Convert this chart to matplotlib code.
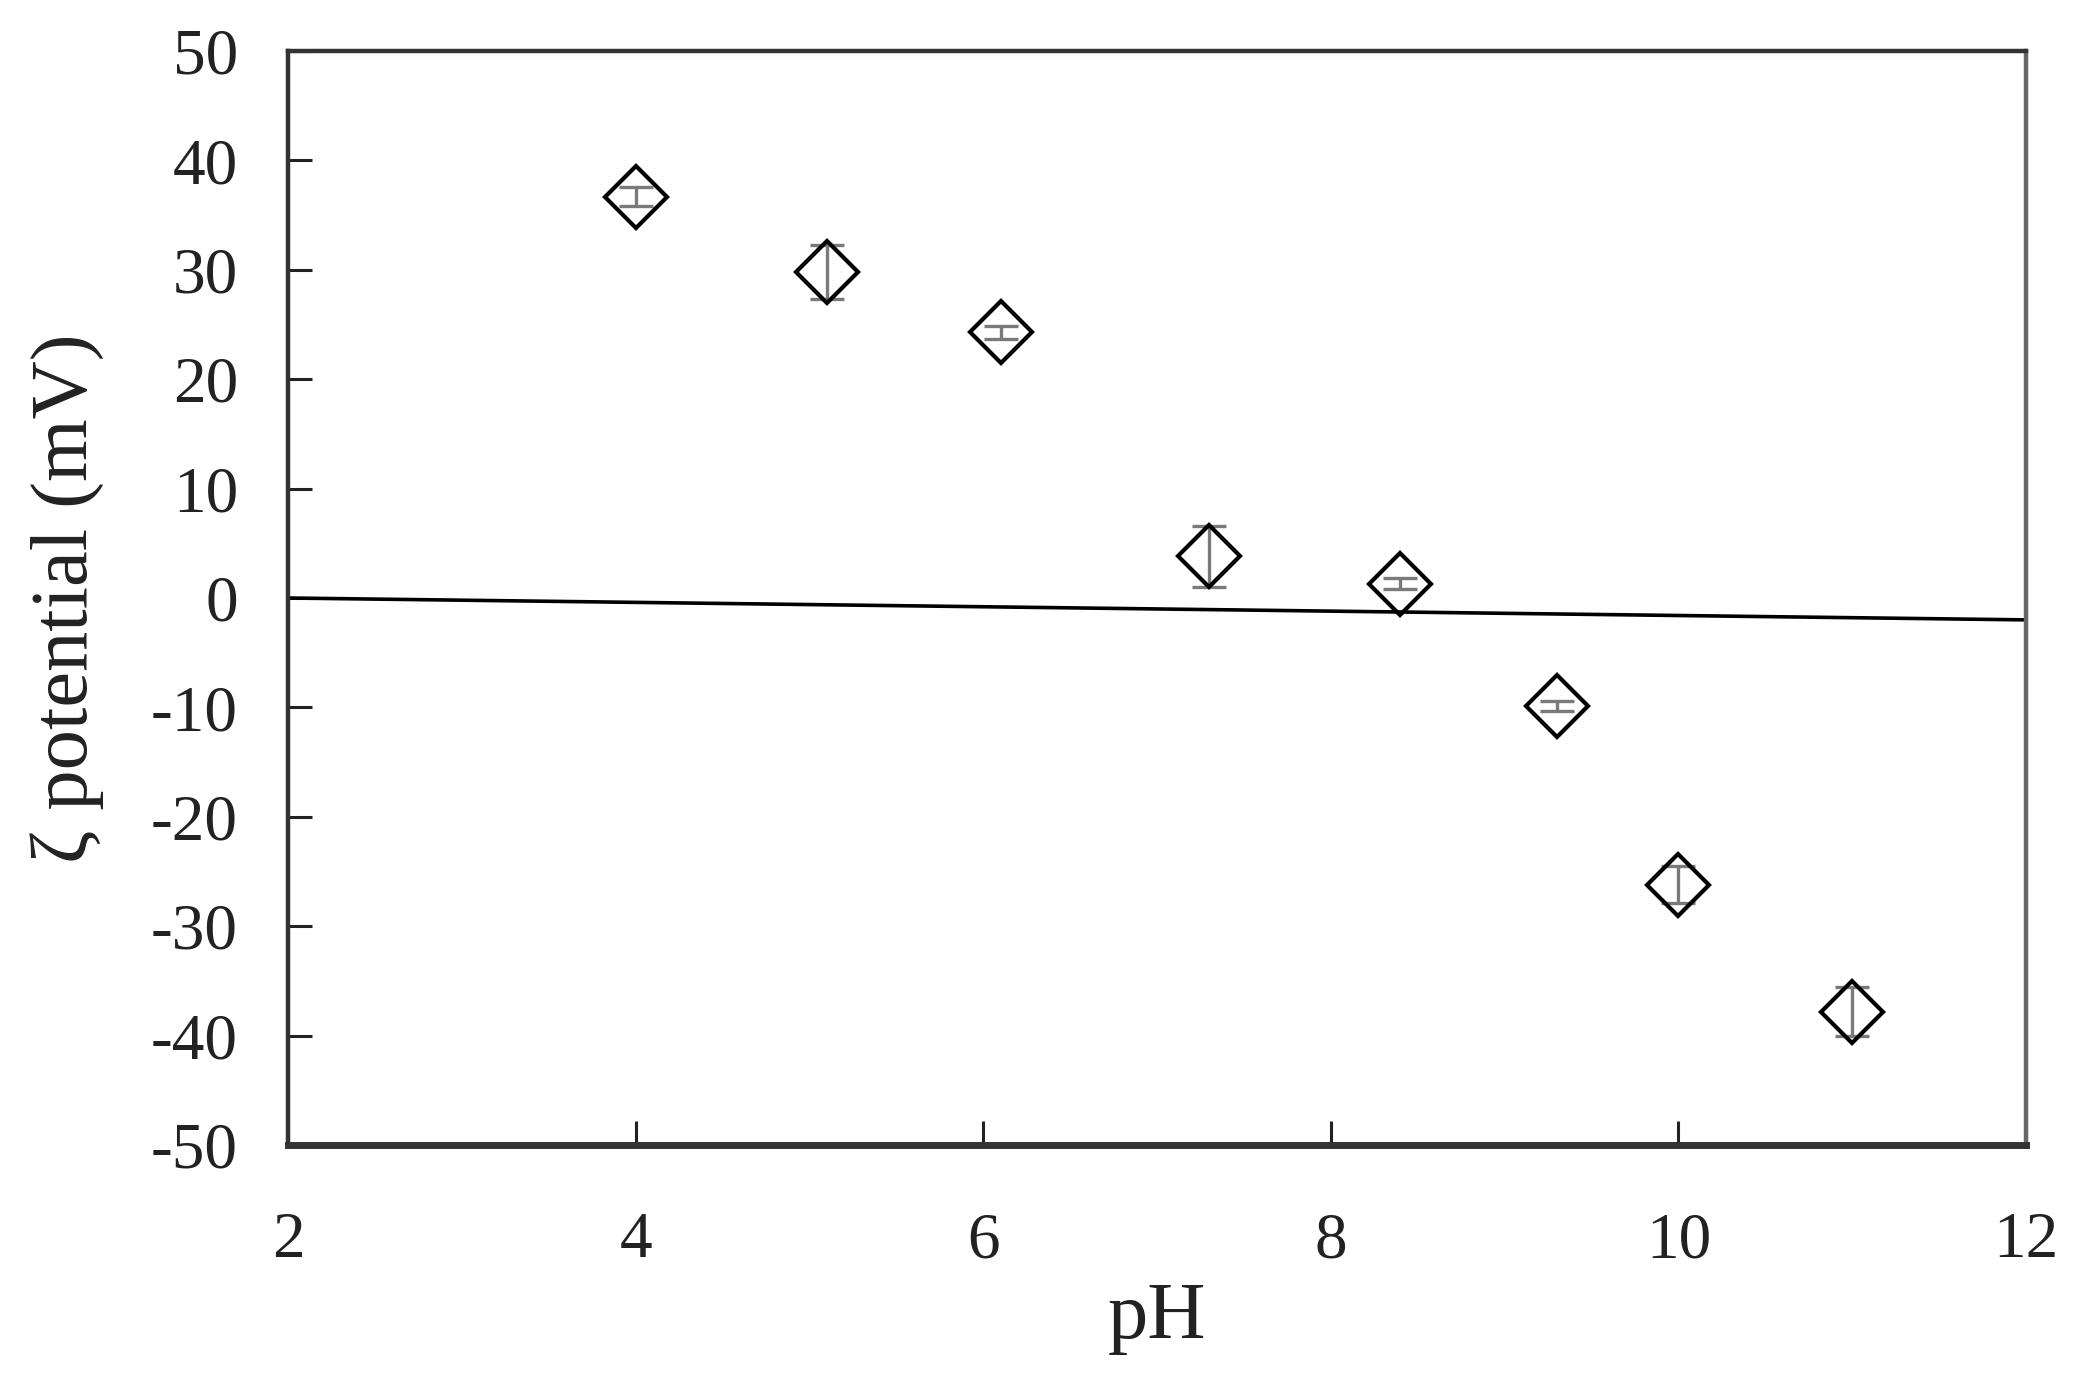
import matplotlib
matplotlib.use("Agg")
import matplotlib.pyplot as plt

# Data
ph = [4.0, 5.1, 6.1, 7.3, 8.4, 9.3, 10.0, 11.0]
zeta = [36.7, 29.8, 24.3, 3.8, 1.3, -9.9, -26.2, -37.8]
zeta_err = [0.9, 2.5, 0.6, 2.8, 0.5, 0.45, 1.7, 2.2]
ref_x = [2, 12]
ref_y = [0.0, -2.0]
xticks = [2, 4, 6, 8, 10, 12]
yticks = [-50, -40, -30, -20, -10, 0, 10, 20, 30, 40, 50]

plt.rcParams['font.family'] = ['Liberation Serif', 'DejaVu Serif']
plt.rcParams['axes.unicode_minus'] = False

fig = plt.figure(figsize=(20.9, 13.79), dpi=100)
ax = fig.add_axes([0.1378, 0.1697, 0.9694 - 0.1378, 0.963 - 0.1697])

ax.plot(ref_x, ref_y, color='black', lw=2.6, zorder=2)
ax.errorbar(ph, zeta, yerr=zeta_err, fmt='none', ecolor='#7a7a7a',
            elinewidth=2.4, capsize=12, capthick=2.4, zorder=3)
ax.plot(ph, zeta, linestyle='none', marker='D', markersize=32,
        markerfacecolor='none', markeredgecolor='black', markeredgewidth=3.0,
        zorder=4)

ax.set_xlim(2, 12)
ax.set_ylim(-50, 50)
ax.set_xticks(xticks)
ax.set_yticks(yticks)
ax.tick_params(axis='both', direction='in', length=17, width=2.2,
               labelsize=47, colors='#222222')
ax.tick_params(axis='x', pad=48)
ax.tick_params(axis='y', pad=36)

for side in ['left', 'top']:
    ax.spines[side].set_linewidth(3.2)
    ax.spines[side].set_color('#333333')
ax.spines['right'].set_linewidth(3.2)
ax.spines['right'].set_color('#666666')
ax.spines['bottom'].set_linewidth(5.0)
ax.spines['bottom'].set_color('#333333')

ax.set_xlabel('pH', fontsize=58, color='#222222')
ax.set_ylabel('ζ potential (mV)', fontsize=58, color='#222222')
ax.xaxis.set_label_coords(0.5, -0.125)
ax.yaxis.set_label_coords(-0.106, 0.5)

fig.savefig('out.png', dpi=100)
